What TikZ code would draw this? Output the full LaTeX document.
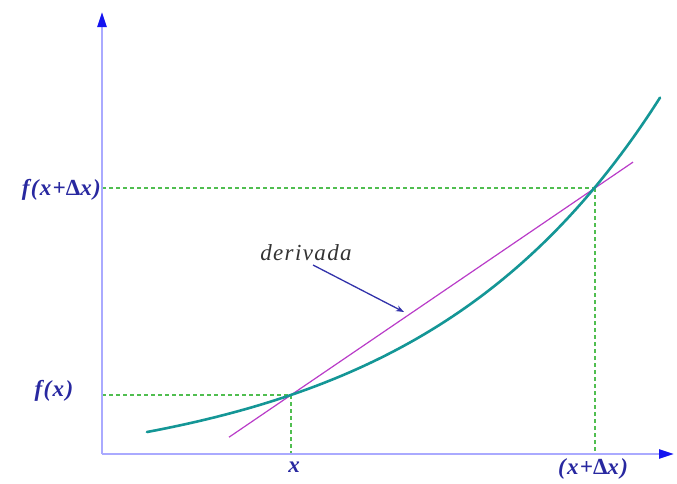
\documentclass[tikz,border=0pt]{standalone}
\usepackage{fontspec}
\setmainfont{Liberation Serif}
\usetikzlibrary{arrows.meta}
\definecolor{axisline}{RGB}{170,170,255}
\definecolor{axishead}{RGB}{20,20,240}
\definecolor{curvec}{RGB}{20,150,150}
\definecolor{secc}{RGB}{185,60,200}
\definecolor{dashc}{RGB}{80,190,80}
\definecolor{labc}{RGB}{40,40,160}
\definecolor{arrc}{RGB}{50,50,170}
\tikzset{
  axis/.style={draw=axisline,line width=2.5pt,-{Triangle[length=15pt,width=9pt,color=axishead]}},
  guide/.style={draw=dashc,line width=1.3pt,dash pattern=on 4pt off 3pt},
  curve/.style={draw=curvec,line width=2.6pt},
  secant/.style={draw=secc,line width=1.2pt},
  lab/.style={text=labc,font=\fontsize{23}{25}\selectfont\bfseries\itshape\addfontfeature{LetterSpace=6},inner sep=0pt},
  pointer/.style={draw=arrc,line width=1.3pt,-{Stealth[length=8pt,width=6pt]}}
}
\begin{document}
\begin{tikzpicture}[x=1pt,y=-1pt]
\useasboundingbox (0,0) rectangle (677,483);
\coordinate (O) at (102,454);
\coordinate (ytop) at (102,12);
\coordinate (xend) at (674,454);
\coordinate (P) at (291,395);
\coordinate (Q) at (595,188);
\coordinate (Px) at (291,454);
\coordinate (Qx) at (595,454);
\coordinate (Py) at (102,395);
\coordinate (Qy) at (102,188);
\coordinate (S1) at (229,437.2);
\coordinate (S2) at (633,162.1);
% guides
\draw[guide] (Py) -- (P);
\draw[guide] (P) -- (Px);
\draw[guide] (Qy) -- (Q);
\draw[guide] (Q) -- (Qx);
% secant
\draw[secant] (S1) -- (S2);
% curve
\draw[curve,line cap=round] plot[domain=147:660,samples=80,smooth] (\x,{454-(-23.54+45.54*exp(0.00413*(\x-147)))});
% axes
\draw[axis] (O) -- (ytop);
\draw[axis] (O) -- (xend);
% labels
\node[lab,anchor=east] (fxd) at (101,190) {f(x+\upshape Δ\itshape x)};
\node[lab] (fx) at (54,391) {f(x)};
\node[lab] (xl) at (294,467) {x};
\node[lab] (xdl) at (593,469) {(x+\upshape Δ\itshape x)};
\node[text=black!80,font=\fontsize{23}{25}\selectfont\itshape\addfontfeature{LetterSpace=6},inner sep=0pt] (der) at (306,253) {derivada};
\coordinate (tip) at (404,312);
\draw[pointer] (313,265) -- (tip);
\end{tikzpicture}
\end{document}
